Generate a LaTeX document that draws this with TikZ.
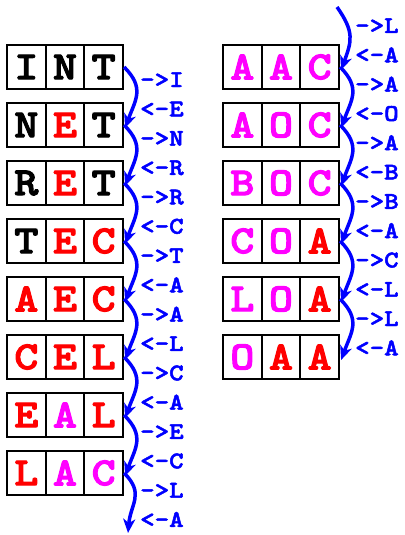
\documentclass[tikz,border=0pt]{standalone}
\usepackage{fontspec}
\newfontfamily\cellfont{lmmonolt10-bold.otf}[FakeStretch=1.15,FakeBold=2.5]
\newfontfamily\lblfont{lmmonolt10-bold.otf}[FakeStretch=1.15,FakeBold=2]
\usetikzlibrary{arrows.meta}
\definecolor{myred}{RGB}{255,0,0}
\definecolor{mymag}{RGB}{255,0,255}
\definecolor{myblue}{RGB}{0,0,255}
\newcommand\myR[1]{\textcolor{myred}{#1}}
\newcommand\myM[1]{\textcolor{mymag}{#1}}
\tikzset{
  cell/.style={draw=black, line width=2.2pt, fill=white, minimum width=38.7pt, minimum height=44pt, inner sep=0pt, font=\cellfont\fontsize{40}{40}\selectfont},
  lbl/.style={anchor=base west, inner sep=0pt, text=myblue, font=\lblfont\fontsize{24}{24}\selectfont},
  link/.style={myblue, line width=3.5pt, looseness=1.25, -{Stealth[length=14pt,width=12pt,inset=4pt]}}
}
\begin{document}
\begin{tikzpicture}[x=1pt,y=1pt]
\fill[white] (0,0) rectangle (404,-535);
\useasboundingbox (0,0) rectangle (404,-535);
% left column
\foreach \a/\b/\c [count=\i] in {I/N/T, N/\myR{E}/T, R/\myR{E}/T, T/\myR{E}/\myR{C}, \myR{A}/\myR{E}/\myR{C}, \myR{C}/\myR{E}/\myR{L}, \myR{E}/\myM{A}/\myR{L}, \myR{L}/\myM{A}/\myM{C}} {
  \node[cell] (L\i-1) at (26.33, {-67-58*(\i-1)}) {\a};
  \node[cell] (L\i-2) at (65, {-67-58*(\i-1)}) {\b};
  \node[cell] (L\i-3) at (103.67, {-67-58*(\i-1)}) {\c};
}
% right column
\foreach \a/\b/\c [count=\i] in {\myM{A}/\myM{A}/\myM{C}, \myM{A}/\myM{O}/\myM{C}, \myM{B}/\myM{O}/\myM{C}, \myM{C}/\myM{O}/\myR{A}, \myM{L}/\myM{O}/\myR{A}, \myM{O}/\myR{A}/\myR{A}} {
  \node[cell] (R\i-1) at (242.33, {-67-58*(\i-1)}) {\a};
  \node[cell] (R\i-2) at (281, {-67-58*(\i-1)}) {\b};
  \node[cell] (R\i-3) at (319.67, {-67-58*(\i-1)}) {\c};
}
% arrows
\foreach \i in {1,...,7} {
  \pgfmathtruncatemacro\j{\i+1}
  \draw[link] (L\i-3.east) to[out=-45,in=70] ([xshift=1pt,yshift=-3pt]L\j-3.east);
}
\coordinate (Lend) at (128,-533);
\draw[link] (L8-3.east) to[out=-45,in=85] (Lend);
\foreach \i in {1,...,5} {
  \pgfmathtruncatemacro\j{\i+1}
  \draw[link] (R\i-3.east) to[out=-45,in=70] ([xshift=1pt,yshift=-3pt]R\j-3.east);
}
\coordinate (Rstart) at (337,-7);
\draw[link] (Rstart) to[out=-55,in=70] ([xshift=1pt,yshift=-3pt]R1-3.east);
% labels
\foreach \t [count=\n from 0] in {->I, <-E, ->N, <-R, ->R, <-C, ->T, <-A, ->A, <-L, ->C, <-A, ->E, <-C, ->L, <-A} {
  \node[lbl] (LL\n) at (140, {-87-29.33*\n}) {\t};
}
\foreach \t [count=\n from 0] in {->L, <-A, ->A, <-O, ->A, <-B, ->B, <-A, ->C, <-L, ->L, <-A} {
  \node[lbl] (RL\n) at (355, {-33-29.3*\n}) {\t};
}
\end{tikzpicture}
\end{document}
